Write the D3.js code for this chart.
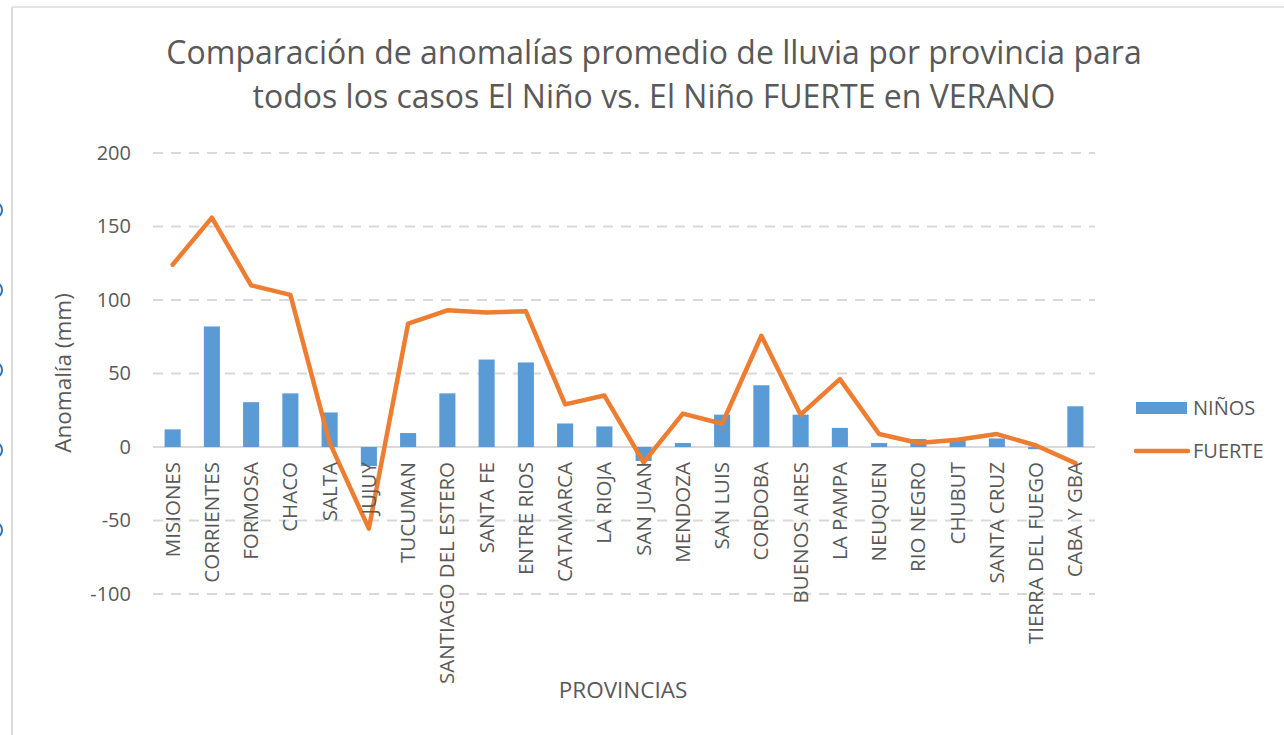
<!DOCTYPE html>
<html lang="es">
<head>
    <meta charset="UTF-8">
    <title>Anomalías de lluvia</title>
    <script src="https://d3js.org/d3.v7.min.js"></script>
    <style>
        body { margin: 0; background: #fff; }
        text { font-family: "Open Sans", "Noto Sans", sans-serif; fill: #595959; }
    </style>
</head>
<body>
<script>
    var width = 1284;
    var height = 735;

    var provincias = ["MISIONES", "CORRIENTES", "FORMOSA", "CHACO", "SALTA", "JUJUY", "TUCUMAN",
        "SANTIAGO DEL ESTERO", "SANTA FE", "ENTRE RIOS", "CATAMARCA", "LA RIOJA", "SAN JUAN",
        "MENDOZA", "SAN LUIS", "CORDOBA", "BUENOS AIRES", "LA PAMPA", "NEUQUEN", "RIO NEGRO",
        "CHUBUT", "SANTA CRUZ", "TIERRA DEL FUEGO", "CABA Y GBA"];
    var ninos = [12, 82, 30.5, 36.5, 23.5, -13, 9.5, 36.5, 59.5, 57.5, 16, 14, -9.5,
        2.7, 22, 42, 22, 13, 2.7, 5.4, 5, 5.8, -1.5, 27.7];
    var fuerte = [124, 156, 110, 103.5, 3, -55.5, 84, 93, 91.5, 92.3, 29, 35, -10.5,
        22.7, 15.8, 75.7, 22, 46.2, 8.8, 2.7, 5, 8.8, 1, -11];
    var yTicks = [-100, -50, 0, 50, 100, 150, 200];
    var series = ["NIÑOS", "FUERTE"];

    var svg = d3.select("body").append("svg")
        .attr("width", width)
        .attr("height", height);

    // marco del gráfico
    svg.append("line").attr("x1", 12).attr("x2", 12).attr("y1", 7).attr("y2", height)
        .attr("stroke", "#d9d9d9").attr("stroke-width", 2);
    svg.append("line").attr("x1", 12).attr("x2", width).attr("y1", 7).attr("y2", 7)
        .attr("stroke", "#e3e3e3").attr("stroke-width", 2);

    // restos del gráfico vecino, recortados en el borde
    [210, 290, 370, 450, 530].forEach(function (yy) {
        svg.append("ellipse").attr("cx", -2).attr("cy", yy).attr("rx", 4).attr("ry", 6)
            .attr("fill", "none").attr("stroke", "#2e75b6").attr("stroke-width", 2);
    });

    var x = d3.scaleBand().domain(provincias).range([153, 1095]).paddingInner(0.59).paddingOuter(0.295);
    var xc = function (d) { return x(d) + x.bandwidth() / 2; };
    var y = d3.scaleLinear().domain([-100, 200]).range([594, 153]);

    // grilla
    svg.append("g").selectAll("line")
        .data(yTicks)
        .enter().append("line")
        .attr("x1", 153).attr("x2", 1095)
        .attr("y1", function (d) { return y(d); })
        .attr("y2", function (d) { return y(d); })
        .attr("stroke", "#d9d9d9")
        .attr("stroke-width", 2)
        .attr("stroke-dasharray", function (d) { return d === 0 ? null : "10,8"; });

    // eje Y
    var yAxis = svg.append("g")
        .attr("transform", "translate(131,0)")
        .call(d3.axisLeft(y).tickValues(yTicks).tickSize(0).tickPadding(0)
            .tickFormat(function (d) { return String(d); }));
    yAxis.select(".domain").remove();
    yAxis.selectAll("text")
        .style("font-size", "20px")
        .style("font-family", "'Open Sans', sans-serif")
        .style("fill", "#595959");

    // barras
    svg.append("g").selectAll("rect")
        .data(ninos)
        .enter().append("rect")
        .attr("x", function (d, i) { return x(provincias[i]); })
        .attr("width", x.bandwidth())
        .attr("y", function (d) { return y(Math.max(0, d)); })
        .attr("height", function (d) { return Math.abs(y(d) - y(0)); })
        .attr("fill", "#5b9bd5");

    // línea
    var line = d3.line()
        .x(function (d, i) { return xc(provincias[i]); })
        .y(function (d) { return y(d); });
    svg.append("path")
        .datum(fuerte)
        .attr("d", line)
        .attr("fill", "none")
        .attr("stroke", "#ed7d31")
        .attr("stroke-width", 4.5)
        .attr("stroke-linejoin", "round")
        .attr("stroke-linecap", "round");

    // etiquetas de categorías
    svg.append("g").selectAll("text")
        .data(provincias)
        .enter().append("text")
        .attr("transform", function (d) { return "translate(" + (xc(d) + 7) + ",462) rotate(-90)"; })
        .attr("text-anchor", "end")
        .style("font-size", "20.5px")
        .text(function (d) { return d; });

    // títulos
    var title = svg.append("text")
        .attr("text-anchor", "middle")
        .style("font-size", "32px");
    title.append("tspan").attr("x", 654).attr("y", 64).text("Comparación de anomalías promedio de lluvia por provincia para");
    title.append("tspan").attr("x", 654).attr("y", 108).text("todos los casos El Niño vs. El Niño FUERTE en VERANO");

    svg.append("text")
        .attr("transform", "translate(71,373) rotate(-90)")
        .attr("text-anchor", "middle")
        .style("font-size", "22.5px")
        .text("Anomalía (mm)");

    svg.append("text")
        .attr("x", 623).attr("y", 698)
        .attr("text-anchor", "middle")
        .style("font-size", "22.5px")
        .text("PROVINCIAS");

    // leyenda
    var legend = svg.append("g");
    legend.append("rect").attr("x", 1136).attr("y", 402).attr("width", 51).attr("height", 12).attr("fill", "#5b9bd5");
    legend.append("line").attr("x1", 1136).attr("x2", 1188).attr("y1", 451).attr("y2", 451)
        .attr("stroke", "#ed7d31").attr("stroke-width", 4.5).attr("stroke-linecap", "round");
    legend.selectAll("text")
        .data(series)
        .enter().append("text")
        .attr("x", 1193)
        .attr("y", function (d, i) { return 408 + i * 43; })
        .attr("dy", "0.35em")
        .style("font-size", "20px")
        .text(function (d) { return d; });
</script>
</body>
</html>
